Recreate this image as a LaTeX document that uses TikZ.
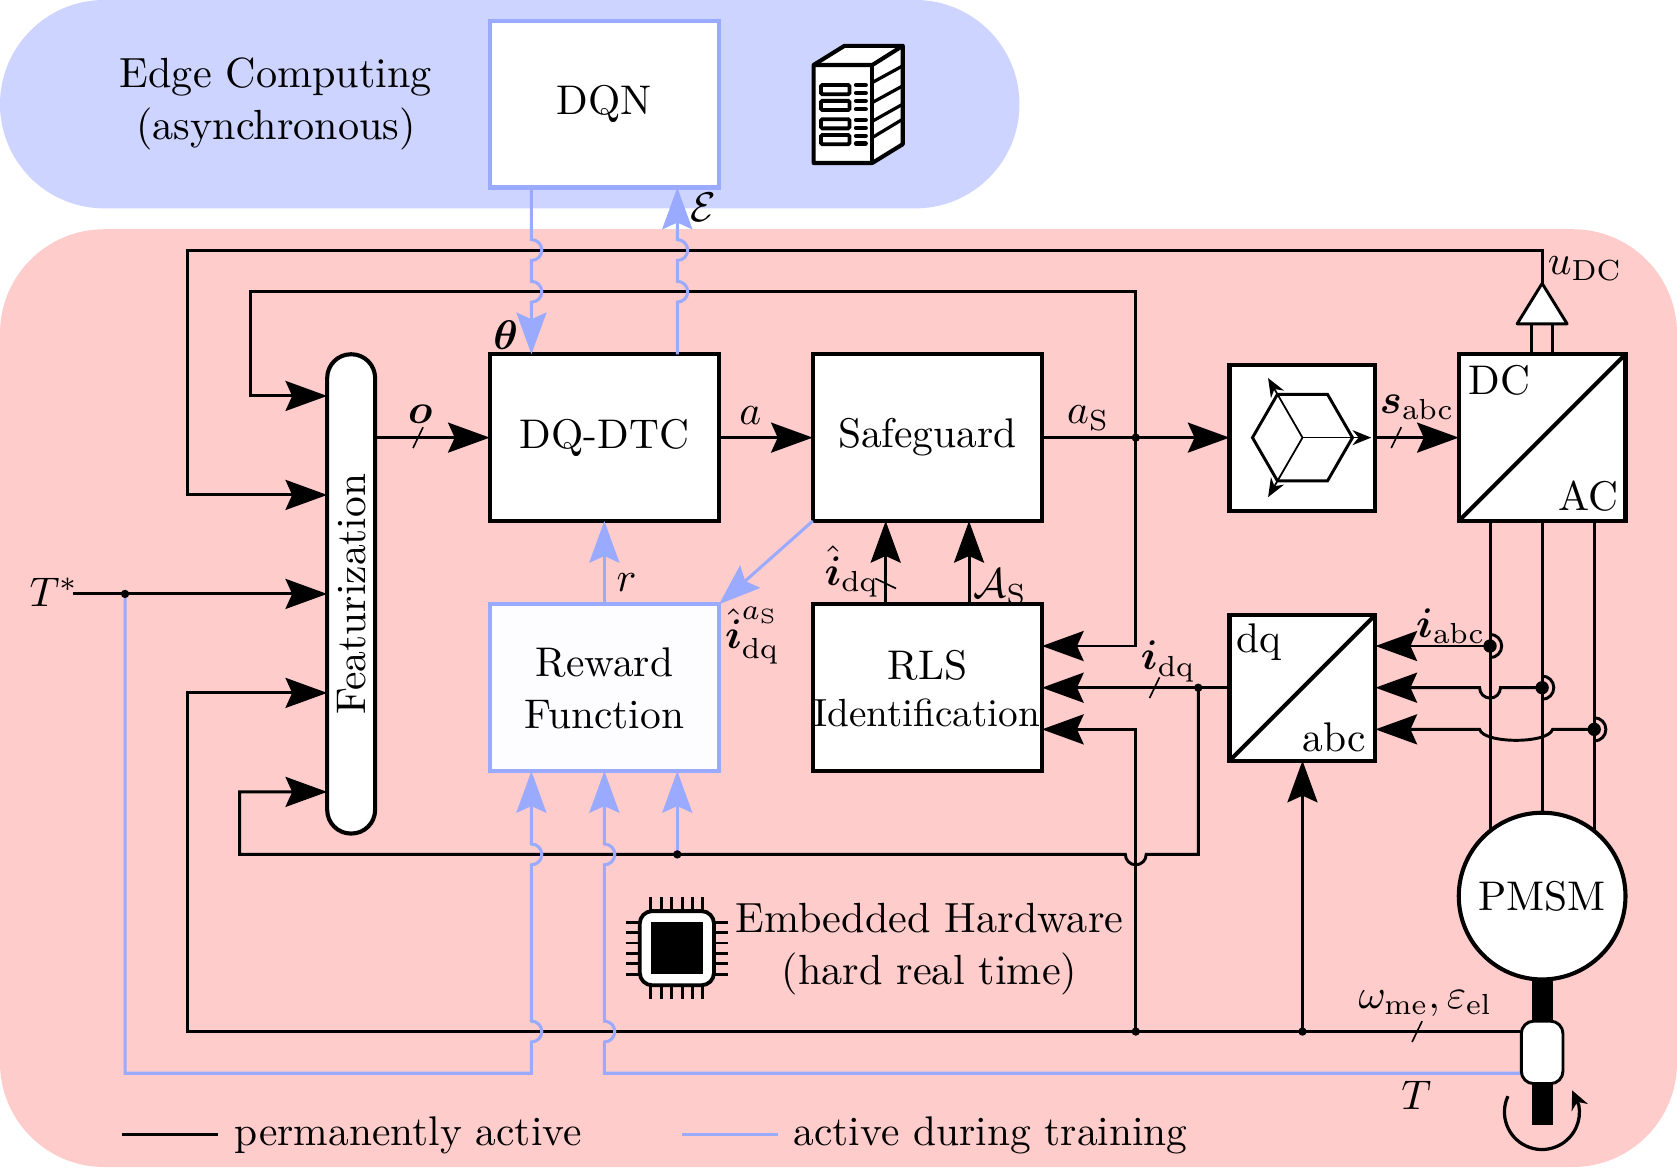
\documentclass[tikz,border=0pt]{standalone}
\usepackage{graphicx}
\usepackage{amsmath}
\usetikzlibrary{arrows.meta}

\definecolor{edgebg}{RGB}{204,212,255}
\definecolor{hardbg}{RGB}{255,204,204}
\definecolor{trainblue}{RGB}{153,170,255}
\definecolor{rewardfill}{RGB}{253,252,255}

\tikzset{
  block/.style = {draw, fill = white, line width = 2.8pt, inner sep = 0pt, outer sep = 0pt, align = center},
  trainblock/.style = {block, draw = trainblue},
  sig/.style = {line width = 2pt},
  train/.style = {line width = 2.1pt, trainblue},
  sigtip/.style = {-{Stealth[length = 10mm, width = 7.2mm, inset = 1.6mm]}},
  slash/.style = {line width = 1.1pt},
  dot/.style = {circle, fill = black, inner sep = 0pt, minimum size = 2mm},
  bigdot/.style = {circle, fill = black, inner sep = 0pt, minimum size = 3.2mm}
}

\newcommand{\jumpup}{arc [start angle = -90, end angle = 90, radius = 0.25]}
\newcommand{\jumpdown}{arc [start angle = 90, end angle = -90, radius = 0.25]}
\newcommand{\jumpleft}{arc [start angle = 0, end angle = -180, radius = 0.25]}
\newcommand{\bigtext}[1]{\scalebox{2.83}{#1}}
\newcommand{\twolines}[3][2.83]{\scalebox{#1}{\renewcommand{\arraystretch}{1.03}\begin{tabular}{@{}c@{}}#2\\#3\end{tabular}}}

\begin{document}
\begin{tikzpicture}
    \useasboundingbox (0, 0) rectangle (40.236, 28);
    \fill [edgebg, rounded corners = 2.5cm] (0, 23) rectangle (24.46, 28);
    \fill [hardbg, rounded corners = 2.5cm] (0, 0) rectangle (40.236, 22.5);

    \node (edgetext) at (6.62, 25.52) {\twolines[2.88]{Edge Computing}{(asynchronous)}};
    \node (hardtext) at (22.3, 5.25) {\twolines[2.88]{Embedded Hardware}{(hard real time)}};

    \node (dqn) [trainblock, minimum width = 5.5cm, minimum height = 4cm] at (14.5, 25.5) {\bigtext{DQN}};
    \node (dqdtc) [block, minimum width = 5.5cm, minimum height = 4cm] at (14.5, 17.5) {\bigtext{DQ-DTC}};
    \node (safeguard) [block, minimum width = 5.5cm, minimum height = 4cm] at (22.25, 17.5) {\bigtext{Safeguard}};
    \node (rls) [block, minimum width = 5.5cm, minimum height = 4cm] at (22.25, 11.5) {};
    \node (reward) [trainblock, fill = rewardfill, minimum width = 5.5cm, minimum height = 4cm] at (14.5, 11.5) {};
    \node (feat) [block, rotate = 90, rounded corners = 0.57cm, minimum width = 11.5cm, minimum height = 1.15cm] at (8.425, 13.75) {\bigtext{Featurization}};
    \node (pwm) [block, minimum width = 3.5cm, minimum height = 3.5cm] at (31.25, 17.5) {};
    \node (conv) [block, minimum width = 4cm, minimum height = 4cm] at (37, 17.5) {};
    \node (dqabc) [block, minimum width = 3.5cm, minimum height = 3.5cm] at (31.25, 11.5) {};

    \node (rewardtext) at (14.5, 11.39) {\twolines{Reward}{Function}};
    \node (rlstextA) at (22.25, 12.03) {\bigtext{RLS}};
    \node (rlstextB) at (22.23, 10.9) {\scalebox{2.68}{Identification}};

    \draw [line width = 2.8pt] (conv.south west) -- (conv.north east);
    \draw [line width = 2.8pt] (dqabc.south west) -- (dqabc.north east);
    \node (dctext) at (35.97, 18.87) {\bigtext{DC}};
    \node (actext) at (38.11, 16.1) {\bigtext{AC}};
    \node (dqtext) at (30.2, 12.6) {\bigtext{dq}};
    \node (abctext) at (32.02, 10.3) {\bigtext{abc}};

    \coordinate (hexmid) at (31.25, 17.5);
    \draw [sig] (hexmid) ++ (0:1.2) -- ++ (120:1.2) -- ++ (180:1.2) -- ++ (240:1.2) -- ++ (300:1.2) -- ++ (0:1.2) -- cycle;
    \foreach \a in {0, 120, 240} {
      \draw [line width = 1.2pt, -{Stealth[length = 4.5mm, width = 3.6mm]}] (hexmid) -- ++ (\a:1.65);
    }

    \coordinate (rewA) at (12.75, 9.5);
    \coordinate (rewC) at (16.25, 9.5);
    \coordinate (rlsA) at (25, 12.5);
    \coordinate (rlsC) at (25, 10.5);
    \coordinate (featA) at (7.85, 18.5);
    \coordinate (featB) at (7.85, 16.125);
    \coordinate (featC) at (7.85, 13.75);
    \coordinate (featD) at (7.85, 11.375);
    \coordinate (featE) at (7.85, 9);
    \coordinate (dqabcA) at (33, 12.5);
    \coordinate (dqabcC) at (33, 10.5);
    \coordinate (apex) at (37, 21.2);
    \coordinate (tstart) at (1.75, 13.75);
    \coordinate (tnode) at (3, 13.75);
    \coordinate (fbnode) at (27.25, 17.5);
    \coordinate (idqnode) at (28.75, 11.5);
    \coordinate (rewnode) at (16.25, 7.5);
    \coordinate (omnodeA) at (27.25, 3.25);
    \coordinate (omnodeB) at (31.25, 3.25);
    \coordinate (sensA) at (36.5, 3.25);
    \coordinate (sensB) at (36.5, 2.25);
    \coordinate (iA) at (35.75, 12.5);
    \coordinate (iB) at (37, 11.5);
    \coordinate (iC) at (38.25, 10.5);

    \draw [sig, sigtip] (feat.south |- dqdtc.west) -- (dqdtc.west);
    \draw [sig, sigtip] (dqdtc.east) -- (safeguard.west);
    \draw [sig, sigtip] (safeguard.east) -- (pwm.west);
    \draw [sig, sigtip] (pwm.east) -- (conv.west);
    \draw [sig, sigtip] (apex) |- (4.5, 22) |- (featB);
    \draw [sig, sigtip] (fbnode) |- (6, 21) |- (featA);
    \draw [sig, sigtip] (fbnode) |- (rlsA);
    \draw [sig, sigtip] (tstart) -- (featC);
    \draw [sig, sigtip] (sensA) -- (4.5, 3.25) |- (featD);
    \draw [sig, sigtip] (omnodeA) |- (rlsC);
    \draw [sig, sigtip] (omnodeB) -- (dqabc.south);
    \draw [sig, sigtip] (dqabc.west) -- (rls.east);
    \draw [sig, sigtip] (idqnode) -- (28.75, 7.5) -- (27.5, 7.5) \jumpleft -- (5.75, 7.5) |- (featE);
    \draw [sig, sigtip] (rls.north -| 21.25, 0) -- (safeguard.south -| 21.25, 0);
    \draw [sig, sigtip] (rls.north -| 23.25, 0) -- (safeguard.south -| 23.25, 0);
    \draw [sig, sigtip] (iA) -- (dqabcA);
    \draw [sig, sigtip] (iB) -- (36, 11.5) \jumpleft -- (dqabc.east);
    \draw [sig, sigtip] (iC) -- (37.25, 10.5) .. controls (37.15, 10.15) and (35.6, 10.15) .. (35.5, 10.5) -- (dqabcC);

    \draw [train, sigtip] (dqn.south -| 12.75, 0) -- (12.75, 22.25) \jumpdown -- (12.75, 21.25) \jumpdown -- (dqdtc.north -| 12.75, 0);
    \draw [train, sigtip] (dqdtc.north -| 16.25, 0) -- (16.25, 20.75) \jumpup -- (16.25, 21.75) \jumpup -- (dqn.south -| 16.25, 0);
    \draw [train, sigtip] (reward.north) -- (dqdtc.south);
    \draw [train, sigtip] (safeguard.south west) -- (reward.north east);
    \draw [train, sigtip] (tnode) |- (12.75, 2.25) -- (12.75, 3) \jumpup -- (12.75, 7.25) \jumpup -- (rewA);
    \draw [train, sigtip] (sensB) -- (14.5, 2.25) -- (14.5, 3) \jumpup -- (14.5, 7.25) \jumpup -- (reward.south);
    \draw [train, sigtip] (rewnode) -- (rewC);

    \draw [slash] (9.91, 17.25) -- (10.15, 17.75);
    \draw [slash] (33.38, 17.25) -- (33.62, 17.75);
    \draw [slash] (27.58, 11.25) -- (27.82, 11.75);
    \draw [slash] (33.88, 3) -- (34.12, 3.5);
    \draw [slash] (21, 14.12) -- (21.5, 13.88);

    \draw [line width = 2.4pt] (36.75, 20.23) -- (36.75, 19.5);
    \draw [line width = 2.4pt] (37.25, 20.23) -- (37.25, 19.5);
    \draw [sig, fill = white, line join = round] (apex) -- (37.6, 20.23) -- (36.4, 20.23) -- cycle;

    \draw [sig] (conv.south -| 35.75, 0) -- (35.75, 8.06);
    \draw [sig] (conv.south) -- (37, 8.5);
    \draw [sig] (conv.south -| 38.25, 0) -- (38.25, 8.06);

    \foreach \n in {iA, iB, iC} {
      \draw [sig] (\n) ++ (0, 0.28) arc [start angle = 90, end angle = -90, radius = 0.28];
      \node (big\n) [bigdot] at (\n) {};
    }
    \foreach \n in {tnode, fbnode, idqnode, rewnode, omnodeA, omnodeB} {
      \node (small\n) [dot] at (\n) {};
    }

    \fill (36.75, 4.5) rectangle (37.25, 1);
    \node (pmsm) [block, circle, minimum size = 4cm] at (37, 6.5) {\bigtext{PMSM}};
    \node (sensor) [block, sig, rounded corners = 0.3cm, minimum width = 1cm, minimum height = 1.5cm] at (37, 2.75) {};
    \draw [line width = 2.2pt, -{Stealth[length = 4.5mm, width = 4.2mm]}] (36.18, 1.70) arc [start angle = 155, end angle = 370, radius = 0.9] -- (37.72, 1.84);

    \draw [line width = 2.8pt, fill = white, line join = round] (19.52, 26.44) -- (20.26, 26.9) -- (21.66, 26.9) -- (21.66, 24.54) -- (20.93, 24.09) -- (19.52, 24.09) -- cycle;
    \draw [line width = 2.8pt, line join = round] (19.52, 26.44) -- (20.93, 26.44) -- (21.66, 26.9);
    \draw [line width = 2.8pt] (20.93, 26.44) -- (20.93, 24.09);
    \draw [line width = 2.2pt] (20.93, 26.02) -- (21.66, 26.42);
    \draw [line width = 2.2pt] (20.93, 25.54) -- (21.66, 25.94);
    \draw [line width = 2.2pt] (20.93, 25.09) -- (21.66, 25.5);
    \draw [line width = 2.2pt] (20.93, 24.7) -- (21.66, 25.14);
    \foreach \y in {25.85, 25.47, 25.03, 24.65} {
      \draw [line width = 2.6pt, rounded corners = 0.03cm] (19.7, \y - 0.11) rectangle (20.38, \y + 0.11);
    }
    \foreach \y in {25.96, 25.77, 25.58, 25.38, 25.12, 24.93, 24.74, 24.56} {
      \draw [line width = 3pt, line cap = round] (20.54, \y) -- (20.77, \y);
    }

    \draw [line width = 2.6pt, fill = white, rounded corners = 0.3cm] (15.35, 4.36) rectangle (17.13, 6.14);
    \fill (15.61, 4.62) rectangle (16.87, 5.88);
    \foreach \d in {-0.625, -0.375, -0.125, 0.125, 0.375, 0.625} {
      \draw [sig] (16.24 + \d, 6.14) -- (16.24 + \d, 6.47);
      \draw [sig] (16.24 + \d, 4.36) -- (16.24 + \d, 4.03);
      \draw [sig] (15.35, 5.25 + \d) -- (15.02, 5.25 + \d);
      \draw [sig] (17.13, 5.25 + \d) -- (17.46, 5.25 + \d);
    }

    \node (lbltstar) at (1.3, 13.8) {\bigtext{$T^*$}};
    \node (lblo) at (10.08, 18.05) {\bigtext{$\boldsymbol{o}$}};
    \node (lbla) at (18, 18.03) {\bigtext{$a$}};
    \node (lblas) at (26.11, 17.97) {\bigtext{$a_{\mathrm{S}}$}};
    \node (lblsabc) at (34, 18.23) {\bigtext{$\boldsymbol{s}_{\mathrm{abc}}$}};
    \node (lbltheta) at (12.13, 19.95) {\bigtext{$\boldsymbol{\theta}$}};
    \node (lbleps) at (16.88, 23.02) {\bigtext{$\mathcal{E}$}};
    \node (lblr) at (15.03, 14.03) {\bigtext{$r$}};
    \node (lblihat) at (20.44, 14.28) {\bigtext{$\hat{\boldsymbol{i}}_{\mathrm{dq}}$}};
    \node (lblas2) at (24, 13.92) {\bigtext{$\mathcal{A}_{\mathrm{S}}$}};
    \node (lblihatas) at (18.05, 12.75) {\bigtext{$\hat{\boldsymbol{i}}_{\mathrm{dq}}^{a_{\mathrm{S}}}$}};
    \node (lblidq) at (28.03, 12.13) {\bigtext{$\boldsymbol{i}_{\mathrm{dq}}$}};
    \node (lbliabc) at (34.81, 12.97) {\bigtext{$\boldsymbol{i}_{\mathrm{abc}}$}};
    \node (lbludc) at (38.03, 21.56) {\bigtext{$u_{\mathrm{DC}}$}};
    \node (lblom) at (34.2, 3.92) {\bigtext{$\omega_{\mathrm{me}}, \varepsilon_{\mathrm{el}}$}};
    \node (lblt) at (33.98, 1.72) {\bigtext{$T$}};

    \coordinate (legA) at (2.92, 0.77);
    \coordinate (legB) at (5.23, 0.77);
    \coordinate (legC) at (16.36, 0.77);
    \coordinate (legD) at (18.67, 0.77);
    \draw [sig] (legA) -- (legB);
    \draw [train] (legC) -- (legD);
    \node (legtextA) [right, inner sep = 0pt] at (5.63, 0.76) {\bigtext{permanently active}};
    \node (legtextB) [right, inner sep = 0pt] at (19.03, 0.76) {\bigtext{active during training}};
\end{tikzpicture}
\end{document}
